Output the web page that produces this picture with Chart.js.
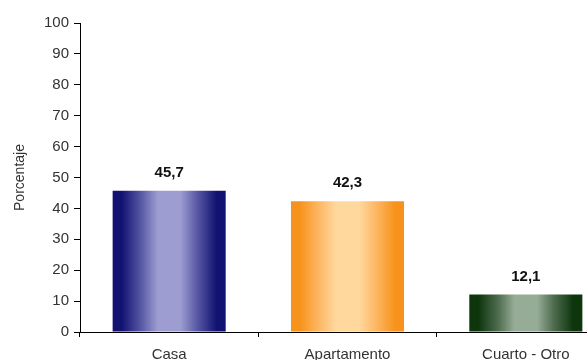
<!DOCTYPE html>
<html>
<head>
<meta charset="utf-8">
<script src="https://cdn.jsdelivr.net/npm/chart.js@4.4.1/dist/chart.umd.min.js"></script>
<style>
  html, body { margin: 0; padding: 0; background: #fff; overflow: hidden; }
  #wrap { width: 625px; height: 360px; }
</style>
</head>
<body>
<div id="wrap"><canvas id="chart" width="625" height="360"></canvas></div>
<script>
const categories = ['Casa', 'Apartamento', 'Cuarto - Otro'];
const values = [45.7, 42.3, 12.1];
const yTicks = [0, 10, 20, 30, 40, 50, 60, 70, 80, 90, 100];

// edge / centre colours for each bar's gradient
const edgeColors = ['#121272', '#f7931c', '#0d360d'];
const midColors = ['#5757a4', '#fdb865', '#4d6a4d'];
const lightColors = ['#9d9dd1', '#ffd89e', '#96ac96'];

const fmt = v => v.toFixed(1).replace('.', ',');

function barGradient(ctx) {
    const chart = ctx.chart;
    const xs = chart.scales.x;
    if (!chart.chartArea || !xs) return edgeColors[ctx.dataIndex];
    const cx = xs.getPixelForValue(ctx.dataIndex);
    const half = (chart.chartArea.width / categories.length) * 0.634 / 2;
    const g = chart.ctx.createLinearGradient(cx - half, 0, cx + half, 0);
    const i = ctx.dataIndex;
    g.addColorStop(0, edgeColors[i]);
    g.addColorStop(0.08, edgeColors[i]);
    g.addColorStop(0.25, midColors[i]);
    g.addColorStop(0.4, lightColors[i]);
    g.addColorStop(0.6, lightColors[i]);
    g.addColorStop(0.75, midColors[i]);
    g.addColorStop(0.92, edgeColors[i]);
    g.addColorStop(1, edgeColors[i]);
    return g;
}

const valueLabels = {
    id: 'valueLabels',
    afterDatasetsDraw(chart) {
        const c = chart.ctx;
        const meta = chart.getDatasetMeta(0);
        c.save();
        c.font = 'bold 15px "Liberation Sans", Arial, sans-serif';
        c.fillStyle = '#111';
        c.textAlign = 'center';
        c.textBaseline = 'middle';
        meta.data.forEach((bar, i) => {
            c.fillText(fmt(values[i]), bar.x, bar.y - 18);
        });
        c.restore();
    }
};

new Chart(document.getElementById('chart'), {
    type: 'bar',
    data: {
        labels: categories,
        datasets: [{
            data: values,
            backgroundColor: barGradient,
            borderWidth: 0,
            barPercentage: 0.634,
            categoryPercentage: 1
        }]
    },
    options: {
        responsive: false,
        animation: false,
        layout: { padding: { top: 23, right: 10, left: 0, bottom: 0 } },
        plugins: {
            legend: { display: false },
            tooltip: { enabled: false }
        },
        scales: {
            x: {
                afterFit: s => { s.height = 28; },
                grid: {
                    offset: true,
                    drawOnChartArea: false,
                    tickLength: 5,
                    color: '#000'
                },
                border: { color: '#000', width: 1 },
                ticks: {
                    color: '#333',
                    padding: 9,
                    font: { size: 15, family: '"Liberation Sans", Arial, sans-serif' }
                }
            },
            y: {
                min: 0,
                max: 100,
                afterFit: s => { s.width = 80; },
                afterBuildTicks: s => { s.ticks = yTicks.map(v => ({ value: v })); },
                grid: {
                    drawOnChartArea: false,
                    tickLength: 6,
                    color: '#000'
                },
                border: { color: '#000', width: 1 },
                ticks: {
                    color: '#333',
                    padding: 5,
                    font: { size: 15, family: '"Liberation Sans", Arial, sans-serif' }
                },
                title: {
                    display: true,
                    text: 'Porcentaje',
                    color: '#333',
                    padding: { top: 12, bottom: 0 },
                    font: { size: 14, family: '"Liberation Sans", Arial, sans-serif' }
                }
            }
        }
    },
    plugins: [valueLabels]
});
</script>
</body>
</html>
